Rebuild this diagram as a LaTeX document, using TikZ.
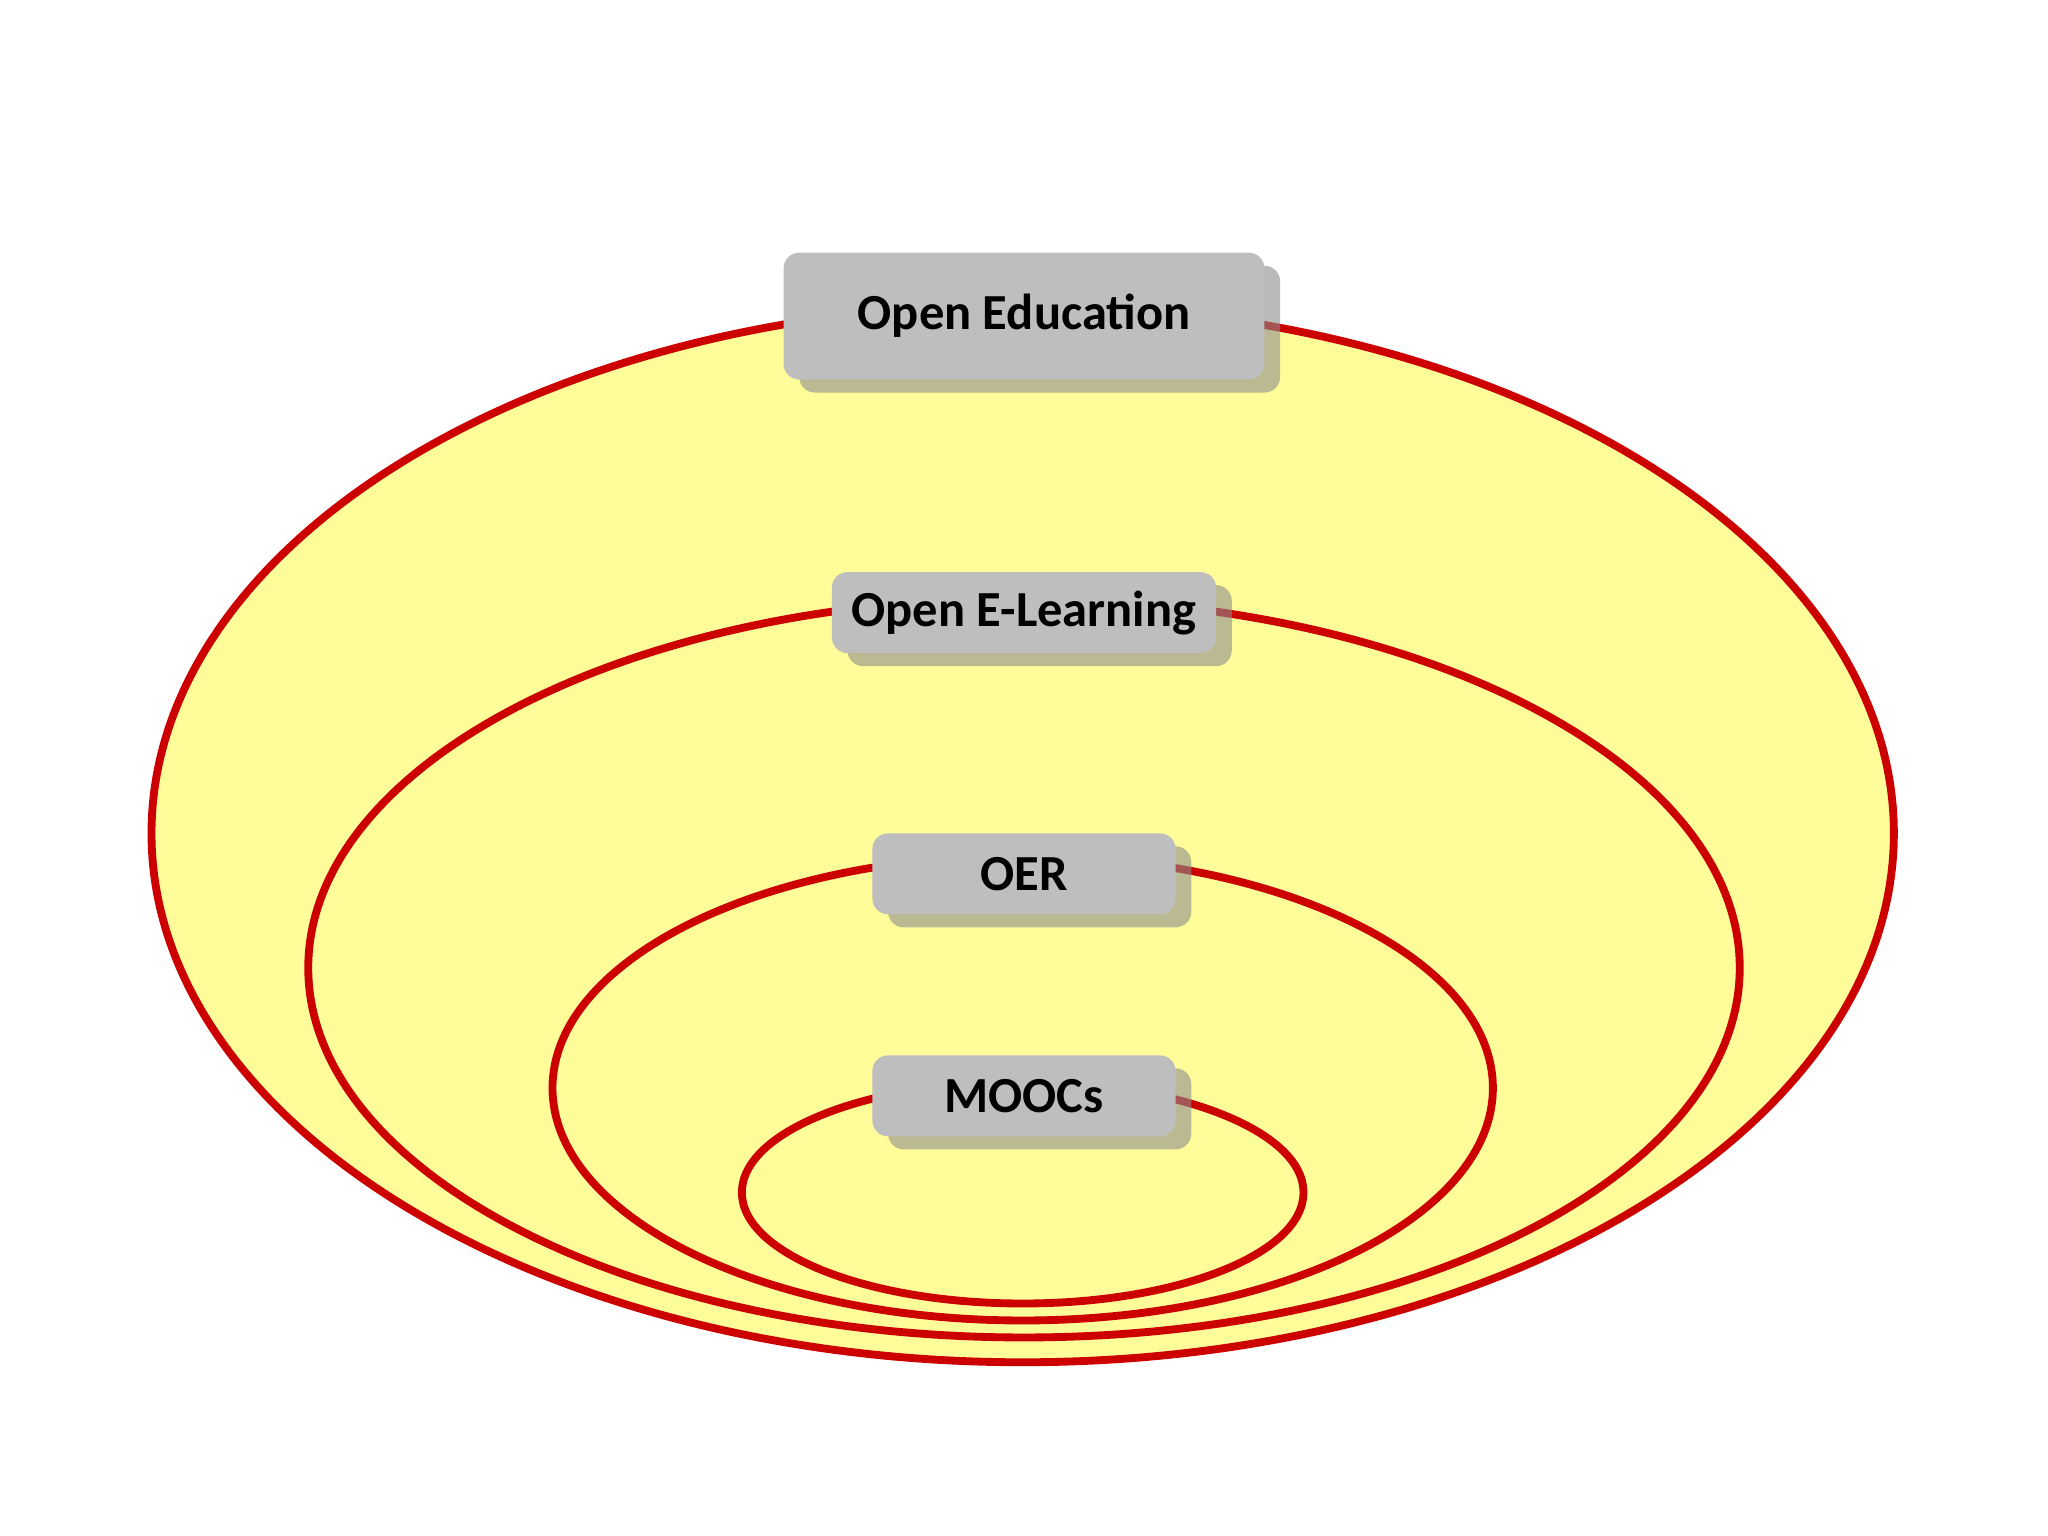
\documentclass[tikz,border=0pt]{standalone}
\usepackage{fontspec}
\setmainfont{Carlito}
\usetikzlibrary{shadows}
\definecolor{ring}{HTML}{CC0000}
\definecolor{fillY}{HTML}{FFFD99}
\definecolor{boxG}{HTML}{BFBEBF}
\begin{document}
\begin{tikzpicture}[x=0.01cm,y=-0.01cm,
  ringst/.style={draw=ring,line width=0.06cm,fill=fillY},
  lbl/.style={fill=boxG,rounded corners=0.12cm,inner sep=0pt,font=\fontsize{11}{13}\selectfont\bfseries,
    drop shadow={shadow xshift=0.12cm,shadow yshift=-0.1cm,fill=black!45,opacity=0.6}}]
\useasboundingbox (0,0) rectangle (1568,1176);
\fill[white] (0,0) rectangle (1568,1176);
\draw[ringst] (783,638) ellipse [x radius=667,y radius=405];
\draw[ringst] (784,741) ellipse [x radius=548,y radius=283];
\draw[ringst] (783,833) ellipse [x radius=360,y radius=178];
\draw[ringst] (783,913) ellipse [x radius=215,y radius=85];
\node[lbl,minimum width=3.68cm,minimum height=0.97cm] (oe) at (784,242) {Open Education};
\node[lbl,minimum width=2.94cm,minimum height=0.62cm] (oel) at (784,469) {Open E-Learning};
\node[lbl,minimum width=2.32cm,minimum height=0.62cm] (oer) at (784,669) {OER};
\node[lbl,minimum width=2.32cm,minimum height=0.62cm] (mooc) at (784,839) {MOOCs};
\end{tikzpicture}
\end{document}
